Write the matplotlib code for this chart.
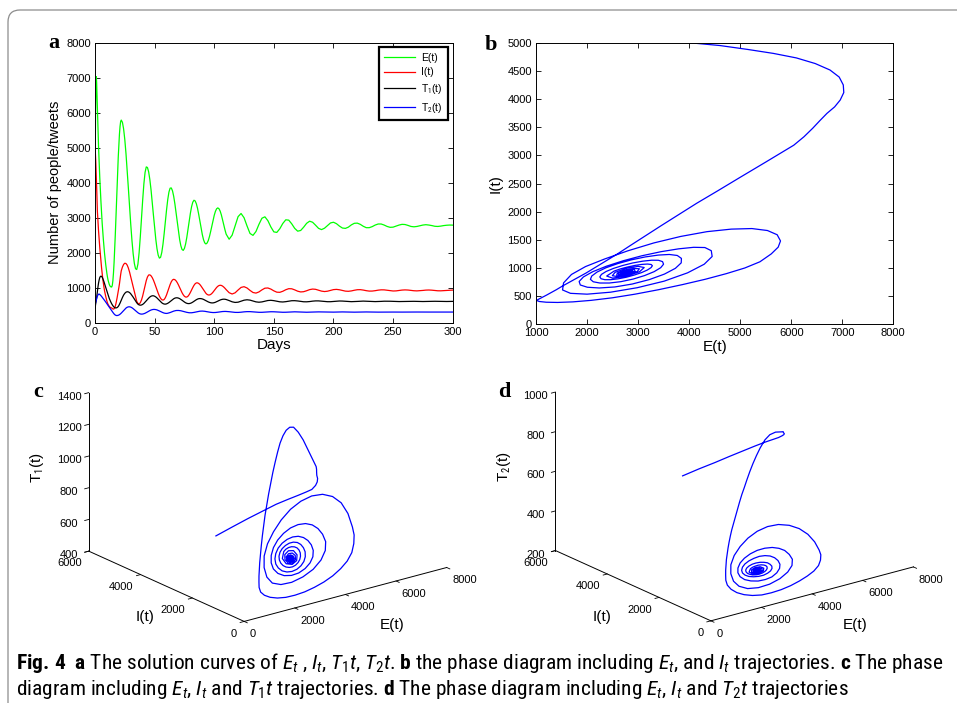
import numpy as np
import matplotlib
matplotlib.use("Agg")
import matplotlib.pyplot as plt
from matplotlib import font_manager
from matplotlib.path import Path
from matplotlib.patches import PathPatch

# sampling days: fine steps where the curves move fast, coarser once they settle
days = np.concatenate([np.arange(0, 2.01, 0.125), np.arange(2.5, 22.01, 0.5), np.arange(23, 41),
                       np.arange(41, 111), np.arange(112.5, 300.1, 2.5)])

E_vals = [4000, 4600, 5150, 5650, 6100, 6470, 6760, 6940, 7020, 7030, 6960, 6850, 6700,
          6560, 6420, 6250, 6050,
          5500, 5000, 4560, 4150, 3790, 3450, 3140, 2850, 2605, 2380,
          2170, 1980, 1810, 1660, 1520, 1400, 1295, 1210, 1145, 1090,
          1055, 1030, 1022, 1020, 1065, 1201, 1423, 1719, 2079, 2492,
          2940, 3405, 3870, 4318, 4731, 5091, 5387, 5609, 5745, 5790,
          5725, 5535, 5230, 4825, 4350, 3835, 3310, 2800, 2345, 1970, 1695, 1540, 1520, 1675,
          2000, 2460, 2985, 3510,
          3970, 4296, 4451, 4434, 4309, 4089, 3795, 3447, 3075, 2711,
          2380, 2112, 1929, 1845, 1868, 2006, 2239, 2545, 2885, 3221,
          3515, 3731, 3845, 3849, 3768, 3611, 3395, 3139, 2867, 2603,
          2372, 2197, 2092, 2066, 2122, 2250, 2438, 2663, 2902, 3127,
          3315, 3443, 3499, 3479, 3399, 3265, 3091, 2894, 2697, 2517,
          2374, 2282, 2250, 2275, 2348, 2462, 2606, 2765, 2924, 3068,
          3182, 3255, 3280, 3256, 3186, 3077, 2942, 2796, 2653, 2530,
          2385, 2500, 2770, 3030, 3120, 3000, 2765, 2550, 2495, 2605,
          2810, 2985, 3025, 2915, 2735, 2595, 2580, 2685, 2835, 2940,
          2930, 2825, 2695, 2615, 2635, 2730, 2840, 2900, 2870, 2785,
          2695, 2660, 2700, 2775, 2850, 2870, 2830, 2760, 2705, 2695,
          2730, 2795, 2840, 2845, 2810, 2755, 2715, 2715, 2745, 2790,
          2820, 2820, 2790, 2750, 2725, 2730, 2760, 2790, 2810, 2805,
          2780, 2750, 2740, 2750, 2770, 2790, 2800, 2790, 2775, 2755,
          2750, 2760, 2775, 2785, 2790, 2788]

I_vals = [5000, 4950, 4880, 4810, 4730, 4630, 4515, 4390, 4250, 4115, 3982, 3860, 3745,
          3615, 3480, 3330, 3180,
          2880, 2610, 2370, 2150, 1945, 1750, 1570, 1400, 1255, 1130,
          1015, 910, 825, 750, 680, 615, 562, 520, 490, 465,
          447, 435, 428, 420, 405, 392, 388, 398, 425, 470,
          535, 615, 705, 800, 900, 1000, 1110, 1250, 1370, 1480,
          1590, 1665, 1700, 1690, 1645, 1560, 1445, 1305, 1160, 1025, 885, 735, 610, 550,
          535, 570, 650, 766,
          914, 1067, 1204, 1307, 1363, 1367, 1340, 1289, 1217, 1129,
          1032, 934, 841, 760, 698, 658, 645, 663, 715, 794,
          891, 994, 1091, 1170, 1222, 1240, 1229, 1196, 1144, 1078,
          1004, 928, 857, 798, 755, 733, 733, 757, 803, 865,
          935, 1005, 1067, 1113, 1137, 1138, 1121, 1089, 1044, 992,
          938, 886, 841, 809, 792, 792, 807, 835, 874, 918,
          964, 1007, 1040, 1062, 1070, 1064, 1046, 1018, 984, 945,
          857, 820, 854, 934, 1008, 1029, 992, 923, 863, 846,
          879, 938, 986, 992, 960, 910, 872, 868, 898, 942,
          972, 969, 938, 900, 879, 886, 913, 945, 961, 954,
          929, 902, 890, 900, 924, 945, 952, 941, 920, 902,
          897, 908, 927, 942, 944, 932, 915, 903, 904, 915,
          930, 939, 938, 927, 914, 906, 909, 920, 932, 937,
          933, 923, 913, 909, 915, 922, 931, 934, 929, 920,
          912, 911, 917, 925, 931, 932]

T1_vals = [400, 435, 470, 500, 530, 553, 575, 597, 620, 655, 690, 725, 760,
           795, 830, 865, 900,
           1025, 1140, 1225, 1290, 1320, 1330, 1322, 1300, 1265, 1220,
           1172, 1120, 1066, 1010, 955, 900, 845, 790, 738, 690,
           648, 610, 573, 540, 510, 485, 463, 445, 432, 425,
           422, 425, 432, 445, 465, 490, 523, 560, 600, 640,
           720, 790, 840, 872, 885, 880, 860, 825, 780, 730, 675, 620, 570, 530,
           508, 500, 506, 523,
           551, 586, 625, 665, 702, 734, 757, 769, 769, 757,
           736, 707, 672, 635, 600, 569, 546, 533, 530, 538,
           554, 576, 604, 633, 660, 684, 702, 711, 711, 703,
           688, 666, 642, 615, 591, 569, 554, 546, 546, 554,
           568, 588, 612, 635, 657, 675, 686, 690, 687, 679,
           666, 649, 630, 611, 594, 580, 570, 565, 566, 573,
           584, 599, 616, 633, 649, 661, 669, 672, 670, 663,
           632, 597, 579, 586, 613, 643, 655, 645, 620, 595,
           585, 594, 615, 634, 640, 630, 612, 597, 592, 601,
           616, 628, 629, 621, 608, 598, 597, 604, 616, 623,
           623, 615, 606, 600, 600, 607, 615, 620, 618, 612,
           605, 601, 603, 608, 614, 617, 615, 610, 605, 603,
           605, 609, 614, 615, 613, 609, 605, 604, 606, 609,
           612, 613, 611, 608, 606, 605, 607, 609, 611, 612,
           610, 608, 606, 606, 607, 609]

T2_vals = [500, 518, 535, 553, 570, 588, 605, 620, 635, 652, 668, 684, 700,
           715, 730, 745, 760,
           795, 815, 818, 805, 790, 772, 752, 730, 710, 690,
           665, 640, 615, 590, 567, 545, 520, 495, 470, 445,
           420, 395, 370, 345, 320, 295, 271, 250, 232, 218,
           210, 205, 204, 207, 212, 219, 230, 242, 257, 273,
           310, 350, 387, 418, 441, 453, 454, 445, 427, 402, 373, 342, 312, 285,
           263, 250, 245, 248,
           257, 270, 288, 307, 328, 346, 362, 373, 379, 379,
           374, 365, 351, 335, 318, 301, 287, 275, 268, 265,
           270, 279, 290, 304, 318, 331, 341, 348, 350, 350,
           347, 341, 333, 324, 314, 304, 296, 289, 284, 283,
           284, 288, 294, 301, 310, 317, 324, 329, 332, 332,
           330, 326, 321, 314, 308, 301, 296, 292, 290, 290,
           292, 295, 300, 305, 310, 315, 319, 321, 322, 321,
           314, 303, 295, 294, 300, 310, 316, 316, 310, 302,
           297, 297, 302, 309, 313, 312, 307, 301, 298, 299,
           304, 309, 311, 309, 305, 301, 299, 300, 304, 307,
           309, 307, 304, 301, 300, 302, 304, 307, 308, 306,
           304, 302, 301, 303, 305, 307, 307, 305, 304, 302,
           302, 303, 305, 306, 306, 304, 303, 302, 303, 304,
           305, 306, 306, 305, 304, 303, 303, 304, 305, 305,
           304, 304, 303, 303, 304, 304]

E = np.array(E_vals, dtype=float)
I = np.array(I_vals, dtype=float)
T1 = np.array(T1_vals, dtype=float)
T2 = np.array(T2_vals, dtype=float)
assert len(days) == len(E) == len(I) == len(T1) == len(T2), (len(days), len(E), len(I), len(T1), len(T2))

series_labels = ["E(t)", "I(t)", "T$_1$(t)", "T$_2$(t)"]
series_colors = [(0, 1, 0), (1, 0, 0), "black", (0, 0, 1)]

names = {f.name for f in font_manager.fontManager.ttflist}
cap_font = next((n for n in ["Liberation Sans Narrow", "Roboto Condensed", "Open Sans Condensed",
                             "Roboto", "Liberation Sans"] if n in names), "DejaVu Sans")

plt.rcParams["font.family"] = ["Liberation Sans", "DejaVu Sans"]
plt.rcParams["mathtext.fontset"] = "custom"
plt.rcParams["mathtext.rm"] = cap_font
plt.rcParams["mathtext.it"] = cap_font + ":italic"
plt.rcParams["mathtext.bf"] = cap_font + ":bold"

W, H = 957, 703
fig = plt.figure(figsize=(W / 100, H / 100), dpi=100)


def px_rect(left, top, right, bottom):
    return [left / W, 1 - bottom / H, (right - left) / W, (bottom - top) / H]


def px_text(x, y, s, **kw):
    return fig.text(x / W, 1 - y / H, s, **kw)


def style_2d(ax):
    ax.tick_params(direction="in", top=True, right=True, length=3.5, width=0.6,
                   labelsize=8, pad=3)
    for s in ax.spines.values():
        s.set_linewidth(0.7)


# ---- a: solution curves
ax_a = fig.add_axes(px_rect(95, 42.7, 452.7, 322.7))
for vals, lab, col in zip([E, I, T1, T2], series_labels, series_colors):
    ax_a.plot(days, vals, color=col, lw=0.9, label=lab)
ax_a.set_xlim(0, 300)
ax_a.set_ylim(0, 8000)
ax_a.set_xticks(np.arange(0, 301, 50))
ax_a.set_yticks(np.arange(0, 8001, 1000))
style_2d(ax_a)
ax_a.set_xlabel("Days", fontsize=11, labelpad=1)
ax_a.set_ylabel("Number of people/tweets", fontsize=10.5, labelpad=3)
leg = ax_a.legend(loc="upper right", fontsize=7.5, handlelength=3.0, handletextpad=0.6,
                  labelspacing=0.45, borderpad=0.5, borderaxespad=0.45, fancybox=False,
                  framealpha=1, edgecolor="black")
leg.get_frame().set_linewidth(1.6)

# ---- b: E-I phase diagram
ax_b = fig.add_axes(px_rect(536, 42.7, 893.3, 324.3))
ax_b.plot(E, I, color="blue", lw=0.9)
ax_b.set_xlim(1000, 8000)
ax_b.set_ylim(0, 5000)
ax_b.set_xticks(np.arange(1000, 8001, 1000))
ax_b.set_yticks(np.arange(0, 5001, 500))
style_2d(ax_b)
ax_b.set_xlabel("E(t)", fontsize=11, labelpad=1)
ax_b.set_ylabel("I(t)", fontsize=11, labelpad=3)


# ---- c, d: 3D trajectories
def phase_3d(cx, cy, zvals, zlim, zticks):
    size = 387
    ax = fig.add_axes(px_rect(cx - size / 2, cy - size / 2, cx + size / 2, cy + size / 2),
                      projection="3d", proj_type="ortho")
    ax.set_facecolor("none")
    ax.view_init(elev=20.3, azim=-127.5)
    ax.set_box_aspect((1, 1, 0.662))
    ax.plot(E, I, zvals, color="blue", lw=0.9)
    ax.set_xlim(0, 8000)
    ax.set_ylim(0, 6000)
    ax.set_zlim(*zlim)
    ax.set_xticks([0, 2000, 4000, 6000, 8000])
    ax.set_yticks([0, 2000, 4000, 6000])
    ax.set_zticks(zticks)
    ax.grid(False)
    for axis in (ax.xaxis, ax.yaxis, ax.zaxis):
        axis.set_pane_color((1, 1, 1, 0))
        axis.pane.set_edgecolor((1, 1, 1, 0))
        axis.line.set_linewidth(0.7)
        axis._axinfo["tick"]["inward_factor"] = 0.25
        axis._axinfo["tick"]["outward_factor"] = 0.0
        axis._axinfo["tick"]["linewidth"] = {True: 0.6, False: 0.6}
    ax.tick_params(labelsize=8)
    ax.tick_params(axis="x", pad=-3)
    ax.tick_params(axis="y", pad=-3)
    ax.tick_params(axis="z", pad=0)
    # MATLAB shifts these labels along their axes
    for t in ax.xaxis.get_major_ticks():
        t.label1.set_horizontalalignment("left")
    for t in ax.yaxis.get_major_ticks():
        t.label1.set_horizontalalignment("right")
    return ax


phase_3d(262.5, 485.3, T1, (400, 1400), np.arange(400, 1401, 200))
phase_3d(729.2, 484.7, T2, (200, 1000), np.arange(200, 1001, 200))

# 3D axis labels placed like the MATLAB originals
for s, x, y, rot in [("E(t)", 392, 625, 0), ("I(t)", 145, 617, 0), ("T$_1$(t)", 37, 468, 90),
                     ("E(t)", 855, 625, 0), ("I(t)", 602, 617, 0), ("T$_2$(t)", 504, 467, 90)]:
    px_text(x, y, s, fontsize=11, ha="center", va="center", rotation=rot)

# panel letters
for letter, x, y in [("a", 48, 48), ("b", 485, 50), ("c", 33, 397), ("d", 498, 397)]:
    px_text(x, y, letter, fontsize=16, fontweight="bold", family="Liberation Serif",
            va="baseline")

# caption
line1 = (r"$\mathbf{Fig.\,4}$  $\mathbf{a}$ The solution curves of $E_t$ , $I_t$, $T_1t$, $T_2t$. "
         r"$\mathbf{b}$ the phase diagram including $E_t$, and $I_t$ trajectories. $\mathbf{c}$ The phase")
line2 = (r"diagram including $E_t$, $I_t$ and $T_1t$ trajectories. $\mathbf{d}$ The phase diagram "
         r"including $E_t$, $I_t$ and $T_2t$ trajectories")
cap1 = px_text(16, 669, line1, fontsize=12, family=cap_font, va="baseline")
cap2 = px_text(16, 695, line2, fontsize=12, family=cap_font, va="baseline")
renderer = fig.canvas.get_renderer()
w1 = cap1.get_window_extent(renderer).width
fs = 12 * 927 / w1
cap1.set_fontsize(fs)
cap2.set_fontsize(fs)

# frame around the figure (top and left edges with rounded corner)
r = 12
verts = [(957, 10), (8 + r, 10), (8, 10), (8, 10 + r), (8, 703)]
codes = [Path.MOVETO, Path.LINETO, Path.CURVE3, Path.CURVE3, Path.LINETO]
verts = [(x / W, 1 - y / H) for x, y in verts]
fig.patches.append(PathPatch(Path(verts, codes), transform=fig.transFigure,
                             fill=False, edgecolor="0.55", lw=0.9))

fig.savefig("out.png", dpi=100)
